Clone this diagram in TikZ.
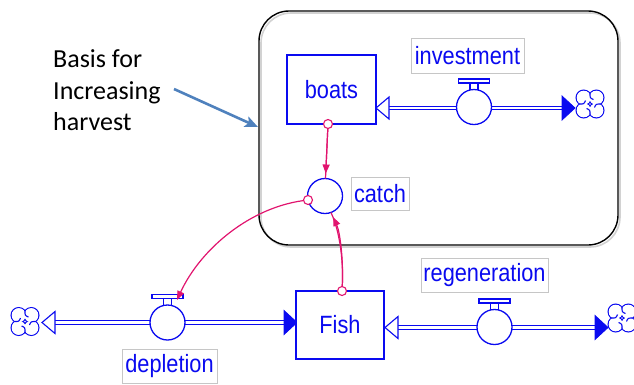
\documentclass[tikz,border=0pt]{standalone}
\usepackage{fontspec}
\usetikzlibrary{arrows.meta}
\newfontfamily\vfont[FakeStretch=0.87]{Liberation Sans}
\newfontfamily\calfont{Carlito}
\definecolor{vblue}{RGB}{10,10,240}
\definecolor{lnk}{RGB}{225,20,110}
\definecolor{annblue}{RGB}{79,129,189}
\tikzset{
  stock/.style={draw=vblue, line width=1.6pt, fill=white, inner sep=0pt, font=\vfont\fontsize{25}{25}\selectfont, text=vblue},
  valve/.style={circle, draw=vblue, line width=1.3pt, fill=white, minimum size=35pt, inner sep=0pt},
  auxc/.style={circle, draw=vblue, line width=1.3pt, fill=white, minimum size=35pt, inner sep=0pt},
  lab/.style={draw=gray!45, line width=0.7pt, fill=white, inner sep=0pt, font=\vfont\fontsize{25}{25}\selectfont, text=vblue},
  pipe/.style={draw=vblue, line width=1.3pt, double=white, double distance=2.3pt},
  hollowhead/.style={draw=vblue, line width=1.1pt, fill=white, line join=miter},
  fullhead/.style={draw=vblue, line width=0.8pt, fill=vblue},
  link/.style={draw=lnk, line width=1.2pt},
  linkarrow/.style={link, -{Triangle[length=9pt,width=7pt]}},
  tailc/.style={circle, draw=lnk, line width=1.1pt, fill=white, minimum size=9pt, inner sep=0pt},
  valvebar/.pic={
    \draw[vblue, line width=1.1pt, fill=white] (-15.5,-28) rectangle (15.5,-24);
    \draw[vblue, line width=1.1pt] (-4,-24) -- (-4,-17) (4,-24) -- (4,-17);
  },
  cloudpic/.pic={
    \foreach \cx/\cy in {6.3/6.3,-6.3/6.3,6.3/-6.3,-6.3/-6.3}
      \draw[vblue, line width=1.2pt] (\cx,\cy) circle (7.6pt);
    \foreach \cx/\cy in {6.3/6.3,-6.3/6.3,6.3/-6.3,-6.3/-6.3}
      \fill[white] (\cx,\cy) circle (7.0pt);
    \draw[vblue, line width=1.1pt]
      (0,-10.2) .. controls (0,-6) .. (3.5,-4.5)
      (10.2,0) .. controls (6,0) .. (4.5,3.5)
      (0,10.2) .. controls (0,6) .. (-3.5,4.5)
      (-10.2,0) .. controls (-6,0) .. (-4.5,-3.5);
  },
  annarrow/.style={draw=annblue, line width=2.6pt, -{Stealth[length=13pt,width=11pt,inset=3pt]}},
  basis/.style={anchor=base west, inner sep=0pt, font=\calfont\fontsize{26}{26}\selectfont}
}
\begin{document}
\begin{tikzpicture}[x=1pt,y=-1pt]
\useasboundingbox (0,0) rectangle (634,384);

% framing box with light shadow
\draw[gray!35, line width=1.6pt, rounded corners=30pt] (261,13) rectangle (620,247);
\node[draw=black, line width=1.4pt, rounded corners=30pt, minimum width=359pt, minimum height=234pt, inner sep=0pt] (frame) at (438.5,128) {};

% annotation text
\node[basis] (b1) at (53,67) {Basis for};
\node[basis] (b2) at (53,99) {Increasing};
\node[basis] (b3) at (53,130) {harvest};
\coordinate (annstart) at (174,89);
\coordinate (annend) at (258,127);
\draw[annarrow] (annstart) -- (annend);

% ---------- top row: boats / investment ----------
\coordinate (p1a) at (388,108);
\coordinate (p1b) at (563,108);
\draw[pipe] (p1a) -- (p1b);
\draw[hollowhead] (376,108) -- (389,97) -- (389,119) -- cycle;
\draw[fullhead] (575,108) -- (562,96) -- (562,120) -- cycle;
\pic at (590,104) {cloudpic};
\node[valve] (inv) at (474,107) {};
\pic at (inv.center) {valvebar};
\node[lab, minimum width=113pt, minimum height=35pt] (invl) at (467.5,55.5) {investment};
\node[stock, minimum width=89pt, minimum height=69pt] (boats) at (331.5,89.5) {boats};

% ---------- bottom row: depletion / Fish / regeneration ----------
\coordinate (p2a) at (55,322.5);
\coordinate (p2b) at (285,322.5);
\draw[pipe] (p2a) -- (p2b);
\draw[hollowhead] (42,322.5) -- (55,311.5) -- (55,333.5) -- cycle;
\draw[fullhead] (297,322.5) -- (284,310.5) -- (284,334.5) -- cycle;
\pic at (25,321.5) {cloudpic};
\node[valve] (dep) at (167.5,322.5) {};
\pic at (dep.center) {valvebar};
\node[lab, minimum width=95pt, minimum height=34pt] (depl) at (169.5,366) {depletion};

\coordinate (p3a) at (397,327.5);
\coordinate (p3b) at (596,327.5);
\draw[pipe] (p3a) -- (p3b);
\draw[hollowhead] (385,327.5) -- (398,316.5) -- (398,338.5) -- cycle;
\draw[fullhead] (608,327.5) -- (595,315.5) -- (595,339.5) -- cycle;
\pic at (622,318) {cloudpic};
\node[valve] (reg) at (494.5,327) {};
\pic at (reg.center) {valvebar};
\node[lab, minimum width=127pt, minimum height=34pt] (regl) at (484.5,275) {regeneration};

\node[stock, minimum width=88pt, minimum height=68pt] (fish) at (340,325) {Fish};

% ---------- catch ----------
\node[auxc] (catch) at (325,196) {};
\node[lab, minimum width=58pt, minimum height=33pt] (catchl) at (380,193.5) {catch};

% ---------- links ----------
\coordinate (bt) at (328,124);
\coordinate (catchtop) at (325.5,178.5);
\draw[link] (bt) -- (catchtop);
\draw[linkarrow, shorten >=5pt] (bt) -- (catchtop);

\coordinate (ct) at (308,200);
\coordinate (dt) at (177,300);
\draw[linkarrow] (ct) .. controls (250,206) and (200,250) .. (dt);

\coordinate (ft) at (342,291);
\coordinate (catchbot) at (331,212.5);
\draw[link] (ft) .. controls (344,262) and (340,232) .. (catchbot);
\draw[linkarrow, shorten >=5pt] (ft) .. controls (344,262) and (340,232) .. (catchbot);

\node[tailc] (btc) at (bt) {};
\node[tailc] (ctc) at (ct) {};
\node[tailc] (ftc) at (ft) {};
\end{tikzpicture}
\end{document}
